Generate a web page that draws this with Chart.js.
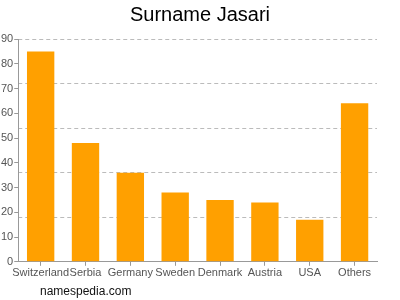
<!DOCTYPE html>
<html>
<head>
<meta charset="utf-8">
<script src="https://cdn.jsdelivr.net/npm/chart.js@4/dist/chart.umd.min.js"></script>
<style>
  body { margin: 0; background: #fff; }
  #wrap { position: relative; width: 400px; height: 300px; }
  #site { position: absolute; left: 40px; top: 284px; font: 12px "Liberation Sans", Arial, sans-serif; color: #111; }
</style>
</head>
<body>
<div id="wrap">
  <canvas id="myChart" width="400" height="300"></canvas>
  <div id="site">namespedia.com</div>
</div>
<script>
// data
const countries = ['Switzerland', 'Serbia', 'Germany', 'Sweden', 'Denmark', 'Austria', 'USA', 'Others'];
const counts = [85, 48, 36, 28, 25, 24, 17, 64];
const yMax = 90;
const labelStep = 10;
const gridStep = 18;

const data = {
  labels: countries,
  datasets: [{
    label: 'Jasari',
    data: counts,
    backgroundColor: '#ffa000',
    borderWidth: 0,
    barPercentage: 0.61,
    categoryPercentage: 1
  }]
};

const config = {
  type: 'bar',
  data,
  options: {
    responsive: false,
    animation: false,
    layout: { padding: { left: 0, right: 0, top: 0, bottom: 19 } },
    plugins: {
      legend: { display: false },
      tooltip: { enabled: false },
      title: {
        display: true,
        text: 'Surname Jasari',
        color: '#000',
        font: { family: 'Liberation Sans', size: 20, weight: 'normal' },
        padding: { top: 3, bottom: 12 }
      }
    },
    scales: {
      x: {
        grid: { display: true, drawOnChartArea: false, offset: false, tickLength: 4, color: '#999' },
        border: { color: '#999' },
        ticks: { color: '#555', font: { family: 'Liberation Sans', size: 11 }, padding: 1, maxRotation: 0, autoSkip: false }
      },
      y: {
        min: 0,
        max: yMax,
        grid: { display: true, drawOnChartArea: false, tickLength: 4, color: '#999' },
        border: { color: '#999' },
        ticks: { stepSize: labelStep, color: '#555', font: { family: 'Liberation Sans', size: 11 }, padding: 1 }
      },
      y2: {
        position: 'right',
        min: 0,
        max: yMax,
        grid: { color: '#bbb', drawTicks: false },
        border: { display: false, dash: [4, 3] },
        ticks: { display: false, stepSize: gridStep },
        afterFit(scale) { scale.width = 23; }
      }
    }
  }
};

new Chart(document.getElementById('myChart'), config);
</script>
</body>
</html>
